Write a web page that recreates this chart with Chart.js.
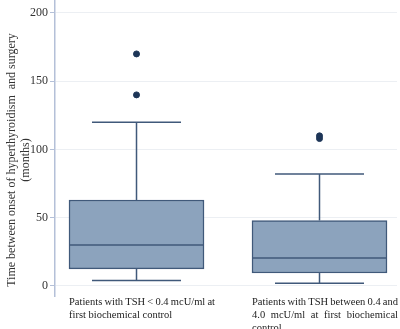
<!DOCTYPE html>
<html>
<head>
<meta charset="utf-8">
<script src="https://cdn.jsdelivr.net/npm/chart.js@4/dist/chart.umd.min.js"></script>
<style>
    body { margin: 0; background: #fff; }
    #wrap { width: 400px; height: 329px; position: relative; }
</style>
</head>
<body>
<div id="wrap"><canvas id="box-chart"></canvas></div>
<script>
// Une boite par groupe de patients
const groupLabels = [
    ['Patients with TSH < 0.4 mcU/ml at', 'first biochemical control'],
    ['Patients with TSH between 0.4 and', '4.0  mcU/ml   at first biochemical', 'control']
];
const groupPos = [1, 2];
const lowWhiskers = [4, 2];
const q1s = [12.5, 9.5];
const medians = [30, 20.5];
const q3s = [63, 48];
const highWhiskers = [120, 82];
const outliers = [[140, 170], [108, 110]];
const yTicks = [0, 50, 100, 150, 200];
const yTitle = ['Time between onset of hyperthyroidism  and surgery', '(months)'];

const BOX_W = 135;
const CAP_W = 89;
const LINE = '#40597a';
const SERIF = '"Liberation Serif", "DejaVu Serif", serif';

// Moustaches, médianes, titre de l'axe y et étiquettes des groupes
const boxExtras = {
    id: 'boxExtras',
    afterDatasetsDraw(chart) {
        const ctx = chart.ctx;
        const x = chart.scales.x;
        const y = chart.scales.y;
        ctx.save();
        ctx.strokeStyle = LINE;
        ctx.lineWidth = 1.5;
        groupPos.forEach((p, i) => {
            const cx = x.getPixelForValue(p);
            const seg = (x0, y0, x1, y1) => {
                ctx.beginPath();
                ctx.moveTo(x0, y0);
                ctx.lineTo(x1, y1);
                ctx.stroke();
            };
            seg(cx, y.getPixelForValue(q3s[i]), cx, y.getPixelForValue(highWhiskers[i]));
            seg(cx, y.getPixelForValue(q1s[i]), cx, y.getPixelForValue(lowWhiskers[i]));
            seg(cx - CAP_W / 2, y.getPixelForValue(highWhiskers[i]), cx + CAP_W / 2, y.getPixelForValue(highWhiskers[i]));
            seg(cx - CAP_W / 2, y.getPixelForValue(lowWhiskers[i]), cx + CAP_W / 2, y.getPixelForValue(lowWhiskers[i]));
            seg(cx - BOX_W / 2, y.getPixelForValue(medians[i]), cx + BOX_W / 2, y.getPixelForValue(medians[i]));
        });

        // titre de l'axe y (tourné)
        ctx.fillStyle = '#333';
        ctx.font = '12px ' + SERIF;
        ctx.textAlign = 'center';
        ctx.textBaseline = 'middle';
        ctx.save();
        ctx.translate(0, 160);
        ctx.rotate(-Math.PI / 2);
        yTitle.forEach((t, j) => ctx.fillText(t, 0, 12 + j * 14));
        ctx.restore();

        // étiquettes justifiées sous chaque boite
        ctx.fillStyle = '#222';
        ctx.font = '10.5px ' + SERIF;
        ctx.textAlign = 'left';
        const width = 146;
        groupPos.forEach((p, i) => {
            const left = x.getPixelForValue(p) - BOX_W / 2;
            const lines = groupLabels[i];
            lines.forEach((txt, j) => {
                const ly = chart.chartArea.bottom + 6 + j * 13;
                const words = txt.split(/\s+/);
                if (j === lines.length - 1 || words.length < 2) {
                    ctx.fillText(txt, left, ly);
                    return;
                }
                const used = words.reduce((s, w) => s + ctx.measureText(w).width, 0);
                const gap = (width - used) / (words.length - 1);
                let cur = left;
                words.forEach(w => {
                    ctx.fillText(w, cur, ly);
                    cur += ctx.measureText(w).width + gap;
                });
            });
        });
        ctx.restore();
    }
};

const ctx = document.getElementById('box-chart');
new Chart(ctx, {
    type: 'bar',
    data: {
        datasets: [{
            label: 'IQR',
            data: groupPos.map((p, i) => ({ x: p, y: [q1s[i], q3s[i]] })),
            backgroundColor: '#8ca3bd',
            borderColor: LINE,
            borderWidth: 1.5,
            borderSkipped: false,
            barThickness: BOX_W
        }, {
            type: 'scatter',
            label: 'Outliers',
            data: outliers.flatMap((vals, i) => vals.map(v => ({ x: groupPos[i], y: v }))),
            backgroundColor: '#1d3557',
            borderColor: '#1d3557',
            pointRadius: 3
        }]
    },
    options: {
        responsive: true,
        maintainAspectRatio: false,
        animation: false,
        layout: { autoPadding: false, padding: { top: 0, bottom: 33, right: 3, left: 0 } },
        plugins: {
            legend: { display: false },
            tooltip: { enabled: false }
        },
        scales: {
            x: {
                type: 'linear',
                display: false,
                offset: false,
                min: 0.5546,
                max: 2.4235
            },
            y: {
                min: -7.33,
                max: 209.5,
                afterBuildTicks: axis => { axis.ticks = yTicks.map(v => ({ value: v })); },
                afterFit: axis => {
                    axis.width = 55;
                    axis.paddingTop = 0;
                    axis.paddingBottom = 0;
                },
                ticks: {
                    color: '#333',
                    font: { family: SERIF, size: 12 },
                    padding: 2
                },
                grid: {
                    color: '#eceff3',
                    tickColor: '#b4c0d8',
                    tickLength: 5
                },
                border: { color: '#b4c0d8', width: 1.5 }
            }
        }
    },
    plugins: [boxExtras]
});
</script>
</body>
</html>
